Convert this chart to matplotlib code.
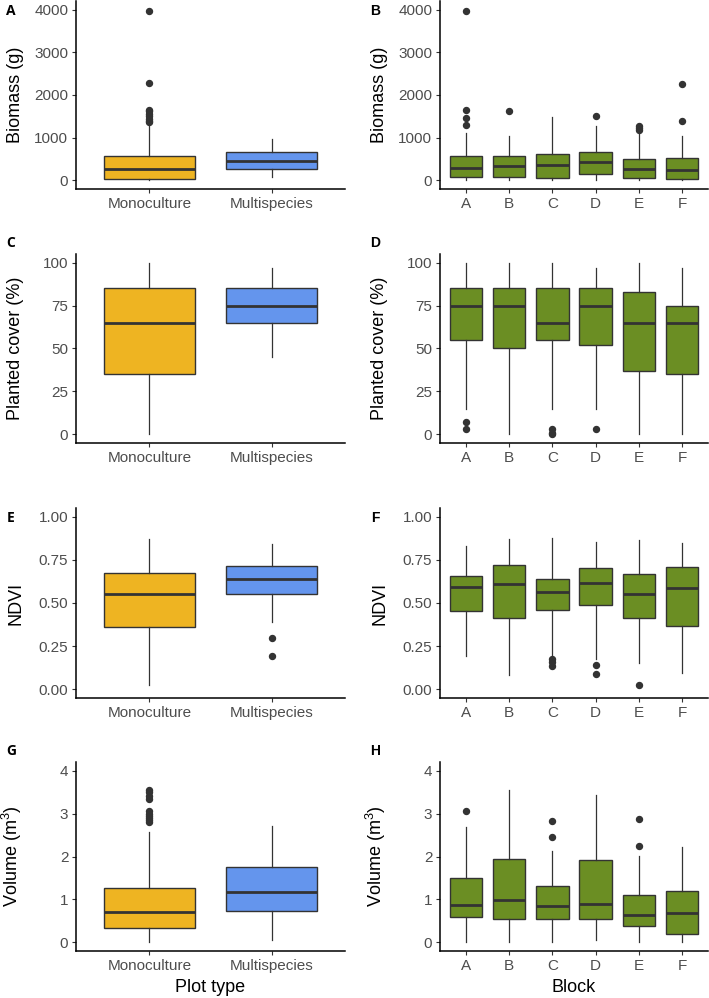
import matplotlib
matplotlib.use("Agg")
import matplotlib.pyplot as plt

plt.rcParams['font.family'] = ['Liberation Sans', 'DejaVu Sans']
plt.rcParams['mathtext.default'] = 'regular'

# Colours
mono_col = '#EEB422'
multi_col = '#6495ED'
block_col = '#6B8E23'
dark = '#333333'
tick_col = '#4D4D4D'

plot_types = ["Monoculture", "Multispecies"]
blocks = ["A", "B", "C", "D", "E", "F"]

# ---- Biomass (g) ----
bio_type_q1 = [39, 271]
bio_type_med = [271, 450]
bio_type_q3 = [566, 667]
bio_type_lo = [5, 85]
bio_type_hi = [1330, 977]
bio_type_out = [[1360, 1400, 1450, 1500, 1550, 1620, 1660, 2270, 3970], []]

bio_block_q1 = [85, 85, 47, 155, 47, 23]
bio_block_med = [302, 333, 364, 442, 271, 240]
bio_block_q3 = [566, 574, 628, 667, 496, 535]
bio_block_lo = [0, 0, 0, 0, 0, 0]
bio_block_hi = [1116, 1031, 1496, 1279, 1078, 1039]
bio_block_out = [[1287, 1473, 1659, 3970], [1636], [], [1519], [1170, 1220, 1265], [1380, 2264]]

# ---- Planted cover (%) ----
cov_type_q1 = [35, 65]
cov_type_med = [65, 75]
cov_type_q3 = [85, 85]
cov_type_lo = [0, 45]
cov_type_hi = [100, 97]
cov_type_out = [[], []]

cov_block_q1 = [55, 50, 55, 52, 37, 35]
cov_block_med = [75, 75, 65, 75, 65, 65]
cov_block_q3 = [85, 85, 85, 85, 83, 75]
cov_block_lo = [15, 0, 15, 15, 0, 0]
cov_block_hi = [100, 100, 100, 97, 100, 97]
cov_block_out = [[3, 7], [], [0, 1, 3], [3], [], []]

# ---- NDVI ----
ndvi_type_q1 = [0.362, 0.551]
ndvi_type_med = [0.553, 0.638]
ndvi_type_q3 = [0.676, 0.713]
ndvi_type_lo = [0.025, 0.389]
ndvi_type_hi = [0.871, 0.842]
ndvi_type_out = [[], [0.193, 0.295]]

ndvi_block_q1 = [0.455, 0.412, 0.457, 0.487, 0.412, 0.368]
ndvi_block_med = [0.590, 0.611, 0.565, 0.617, 0.553, 0.584]
ndvi_block_q3 = [0.657, 0.721, 0.638, 0.703, 0.669, 0.709]
ndvi_block_lo = [0.191, 0.085, 0.200, 0.177, 0.154, 0.094]
ndvi_block_hi = [0.829, 0.871, 0.875, 0.854, 0.867, 0.848]
ndvi_block_out = [[], [], [0.133, 0.158, 0.177], [0.089, 0.143], [0.023], []]

# ---- Volume (m3) ----
vol_type_q1 = [0.326, 0.721]
vol_type_med = [0.713, 1.163]
vol_type_q3 = [1.256, 1.752]
vol_type_lo = [0.0, 0.062]
vol_type_hi = [2.58, 2.72]
vol_type_out = [[2.80, 2.85, 2.90, 2.95, 3.00, 3.05, 3.35, 3.40, 3.50, 3.55], []]

vol_block_q1 = [0.597, 0.550, 0.550, 0.543, 0.372, 0.186]
vol_block_med = [0.876, 0.977, 0.853, 0.899, 0.628, 0.682]
vol_block_q3 = [1.488, 1.946, 1.310, 1.907, 1.101, 1.202]
vol_block_lo = [0.0, 0.0, 0.0, 0.062, 0.0, 0.02]
vol_block_hi = [2.68, 3.54, 2.12, 3.43, 2.02, 2.22]
vol_block_out = [[3.07], [], [2.46, 2.83], [], [2.25, 2.87], []]


def make_stats(q1, med, q3, lo, hi, out):
    return [dict(q1=a, med=b, q3=c, whislo=d, whishi=e, fliers=f)
            for a, b, c, d, e, f in zip(q1, med, q3, lo, hi, out)]


W, H = 709, 998
fig = plt.figure(figsize=(W / 100, H / 100), dpi=100)


def add_panel(px0, px1, py0, py1):
    return fig.add_axes([px0 / W, 1 - py1 / H, (px1 - px0) / W, (py1 - py0) / H])


def draw_box(ax, stats, labels, colors, ylim, yticks, yticklabels, ylabel, xlabel=None):
    n = len(labels)
    pos = list(range(1, n + 1))
    bp = ax.bxp(stats, positions=pos, widths=0.75, patch_artist=True, showcaps=False,
                boxprops=dict(edgecolor=dark, linewidth=1.0),
                medianprops=dict(color=dark, linewidth=2.0, solid_capstyle='butt'),
                whiskerprops=dict(color=dark, linewidth=0.9),
                flierprops=dict(marker='o', markerfacecolor=dark, markeredgecolor=dark,
                                markersize=4.3, linestyle='none'))
    for patch, c in zip(bp['boxes'], colors):
        patch.set_facecolor(c)
    ax.set_xlim(0.4, n + 0.6)
    ax.set_ylim(*ylim)
    ax.set_xticks(pos)
    ax.set_xticklabels(labels)
    ax.set_yticks(yticks)
    ax.set_yticklabels(yticklabels)
    for s in ['top', 'right']:
        ax.spines[s].set_visible(False)
    for s in ['left', 'bottom']:
        ax.spines[s].set_linewidth(1.1)
        ax.spines[s].set_color('black')
    ax.tick_params(axis='both', length=3, width=0.8, color=dark, labelcolor=tick_col,
                   labelsize=11, pad=2.5)
    ax.set_ylabel(ylabel, fontsize=13, color='black')
    if xlabel:
        ax.set_xlabel(xlabel, fontsize=13, color='black', labelpad=4.5)


rows = [(1, 189), (254, 443), (508, 698), (762, 951)]
left_x = (76, 345)
right_x = (440, 708)

panels = [
    (make_stats(bio_type_q1, bio_type_med, bio_type_q3, bio_type_lo, bio_type_hi, bio_type_out),
     make_stats(bio_block_q1, bio_block_med, bio_block_q3, bio_block_lo, bio_block_hi, bio_block_out),
     (-200, 4200), [0, 1000, 2000, 3000, 4000], ["0", "1000", "2000", "3000", "4000"],
     "Biomass (g)"),
    (make_stats(cov_type_q1, cov_type_med, cov_type_q3, cov_type_lo, cov_type_hi, cov_type_out),
     make_stats(cov_block_q1, cov_block_med, cov_block_q3, cov_block_lo, cov_block_hi, cov_block_out),
     (-5, 105), [0, 25, 50, 75, 100], ["0", "25", "50", "75", "100"],
     "Planted cover (%)"),
    (make_stats(ndvi_type_q1, ndvi_type_med, ndvi_type_q3, ndvi_type_lo, ndvi_type_hi, ndvi_type_out),
     make_stats(ndvi_block_q1, ndvi_block_med, ndvi_block_q3, ndvi_block_lo, ndvi_block_hi, ndvi_block_out),
     (-0.05, 1.05), [0, 0.25, 0.5, 0.75, 1.0], ["0.00", "0.25", "0.50", "0.75", "1.00"],
     "NDVI"),
    (make_stats(vol_type_q1, vol_type_med, vol_type_q3, vol_type_lo, vol_type_hi, vol_type_out),
     make_stats(vol_block_q1, vol_block_med, vol_block_q3, vol_block_lo, vol_block_hi, vol_block_out),
     (-0.2, 4.2), [0, 1, 2, 3, 4], ["0", "1", "2", "3", "4"],
     r"Volume (m$^{3}$)"),
]

letters_left = ["A", "C", "E", "G"]
letters_right = ["B", "D", "F", "H"]
letter_y = [11, 243, 518, 751]

for i, (st_type, st_block, ylim, yt, ytl, ylab) in enumerate(panels):
    y0, y1 = rows[i]
    last = i == len(panels) - 1
    axl = add_panel(left_x[0], left_x[1], y0, y1)
    draw_box(axl, st_type, plot_types, [mono_col, multi_col], ylim, yt, ytl, ylab,
             "Plot type" if last else None)
    axl.yaxis.set_label_coords((24 - left_x[0]) / (left_x[1] - left_x[0]), 0.5)
    axr = add_panel(right_x[0], right_x[1], y0, y1)
    draw_box(axr, st_block, blocks, [block_col] * 6, ylim, yt, ytl, ylab,
             "Block" if last else None)
    axr.yaxis.set_label_coords((388 - right_x[0]) / (right_x[1] - right_x[0]), 0.5)
    fig.text(11 / W, 1 - letter_y[i] / H, letters_left[i], ha='center', va='center',
             fontsize=10, fontweight='bold', family=['Open Sans', 'DejaVu Sans'])
    fig.text(375 / W, 1 - letter_y[i] / H, letters_right[i], ha='center', va='center',
             fontsize=10, fontweight='bold')

fig.savefig("out.png", dpi=100)
